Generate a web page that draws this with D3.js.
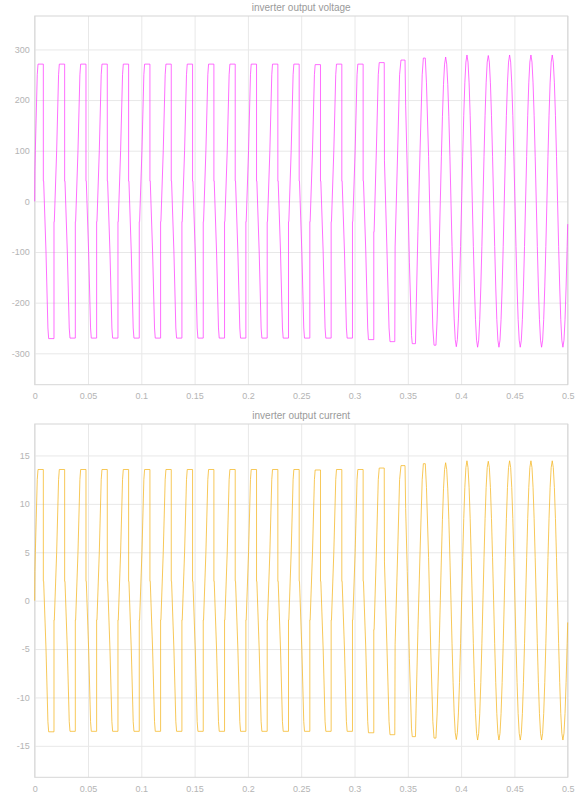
<!DOCTYPE html>
<html>
<head>
<meta charset="utf-8">
<script src="https://cdn.jsdelivr.net/npm/d3@7"></script>
<style>
  html, body { margin: 0; padding: 0; background: #fff; }
  svg { display: block; font-family: "Liberation Sans", Arial, sans-serif; }
</style>
</head>
<body>
<svg id="chart" width="578" height="794"></svg>
<script>
// sample times in ms, one row per 20 ms cycle
const timeMs = [
  [0, 0.2, 0.6, 2.4, 3.1, 8.1, 8.1, 8.4, 10.6, 12.4, 13.1, 18.1, 18.1, 18.4],
  [20.6, 22.4, 23.1, 28.1, 28.1, 28.4, 30.6, 32.4, 33.1, 38.1, 38.1, 38.4],
  [40.6, 42.4, 43.1, 48.1, 48.1, 48.4, 50.6, 52.4, 53.1, 58.1, 58.1, 58.4],
  [60.6, 62.4, 63.1, 68.1, 68.1, 68.4, 70.6, 72.4, 73.1, 78.1, 78.1, 78.4],
  [80.6, 82.4, 83.1, 88.1, 88.1, 88.4, 90.6, 92.4, 93.1, 98.1, 98.1, 98.4],
  [100.6, 102.4, 103.1, 108.1, 108.1, 108.4, 110.6, 112.4, 113.1, 118.1, 118.1, 118.4],
  [120.6, 122.4, 123.1, 128.1, 128.1, 128.4, 130.6, 132.4, 133.1, 138.1, 138.1, 138.4],
  [140.6, 142.4, 143.1, 148.1, 148.1, 148.4, 150.6, 152.4, 153.1, 158.1, 158.1, 158.4],
  [160.6, 162.4, 163.1, 168.1, 168.1, 168.4, 170.6, 172.4, 173.1, 178.1, 178.1, 178.4],
  [180.6, 182.4, 183.1, 188.1, 188.1, 188.4, 190.6, 192.4, 193.1, 198.1, 198.1, 198.4],
  [200.6, 202.4, 203.1, 208.1, 208.1, 208.4, 210.6, 212.4, 213.1, 218.1, 218.1, 218.4],
  [220.6, 222.4, 223.1, 228.1, 228.1, 228.4, 230.6, 232.4, 233.1, 238.1, 238.1, 238.4],
  [240.6, 242.4, 243.1, 248.1, 248.1, 248.4, 250.6, 252.4, 253.1, 258.1, 258.1, 258.4],
  [260.6, 262.4, 263.1, 268.1, 268.1, 268.4, 270.6, 272.4, 273.1, 278.1, 278.1, 278.4],
  [280.6, 282.4, 283.1, 288.1, 288.1, 288.4, 290.6, 292.4, 293.1, 298.1, 298.1, 298.4],
  [300.6, 302.4, 303.1, 308.1, 308.1, 308.4, 310.6, 312.4, 313.1, 318.1, 318.1, 318.4],
  [320.5, 322.3, 323.2, 327.9, 328.1, 330.5, 332.4, 333.3, 337.8, 338.1],
  [340.5, 342.3, 343.6, 347.4, 348.0, 349.5, 351.5, 353.5, 354.2, 357.2, 358.0, 359.5],
  [361.5, 363.5, 364.6, 366.4, 367.5, 369.5, 371.5, 373.5, 374.6, 376.4, 377.5, 379.5],
  [380.5, 381.5, 382.5, 383.5, 384.5, 385.5, 386.5, 387.5, 388.5, 389.5,
   390.5, 391.5, 392.5, 393.5, 394.5, 395.5, 396.5, 397.5, 398.5, 399.5],
  [400.5, 401.5, 402.5, 403.5, 404.5, 405.5, 406.5, 407.5, 408.5, 409.5,
   410.5, 411.5, 412.5, 413.5, 414.5, 415.5, 416.5, 417.5, 418.5, 419.5],
  [420.5, 421.5, 422.5, 423.5, 424.5, 425.5, 426.5, 427.5, 428.5, 429.5,
   430.5, 431.5, 432.5, 433.5, 434.5, 435.5, 436.5, 437.5, 438.5, 439.5],
  [440.5, 441.5, 442.5, 443.5, 444.5, 445.5, 446.5, 447.5, 448.5, 449.5,
   450.5, 451.5, 452.5, 453.5, 454.5, 455.5, 456.5, 457.5, 458.5, 459.5],
  [460.5, 461.5, 462.5, 463.5, 464.5, 465.5, 466.5, 467.5, 468.5, 469.5,
   470.5, 471.5, 472.5, 473.5, 474.5, 475.5, 476.5, 477.5, 478.5, 479.5],
  [480.5, 481.5, 482.5, 483.5, 484.5, 485.5, 486.5, 487.5, 488.5, 489.5,
   490.5, 491.5, 492.5, 493.5, 494.5, 495.5, 496.5, 497.5, 498.5, 499.5],
  [500]
];

// inverter output voltage (V), same row layout as timeMs
const voltage = [
  [0, 60, 100, 250, 271, 271, 40, 40, -100, -250, -271, -271, -40, -40],
  [100, 250, 271, 271, 40, 40, -100, -250, -270, -270, -40, -40],
  [100, 250, 271, 271, 40, 40, -100, -250, -270, -270, -40, -40],
  [100, 250, 271, 271, 40, 40, -100, -250, -270, -270, -40, -40],
  [100, 250, 271, 271, 40, 40, -100, -250, -270, -270, -40, -40],
  [100, 250, 271, 271, 40, 40, -100, -250, -270, -270, -40, -40],
  [100, 250, 271, 271, 40, 40, -100, -250, -270, -270, -40, -40],
  [100, 250, 271, 271, 40, 40, -100, -250, -270, -270, -40, -40],
  [100, 250, 271, 271, 40, 40, -100, -250, -270, -270, -40, -40],
  [100, 250, 271, 271, 40, 40, -100, -250, -270, -270, -40, -40],
  [100, 250, 271, 271, 40, 40, -100, -250, -270, -270, -40, -40],
  [100, 250, 271, 271, 40, 40, -100, -250, -270, -270, -40, -40],
  [100, 250, 271, 271, 40, 40, -100, -250, -270, -270, -40, -40],
  [100, 250, 270, 270, 40, 40, -100, -250, -270, -270, -40, -40],
  [100, 250, 271, 271, 40, 40, -100, -250, -270, -270, -40, -40],
  [100, 250, 271, 271, 40, 40, -100, -250, -273, -273, -60, -60],
  [100, 250, 274, 274, 80, -100, -250, -277, -277, -90],
  [100, 250, 279, 279, 190, 60, -120, -265, -281, -281, -200, -60],
  [100, 250, 283, 283, 234, 89, -100, -250, -284, -284, -234, -89],
  [0, 88, 168, 231, 271, 285, 271, 231, 168, 88,
   0, -89, -169, -232, -273, -287, -273, -232, -169, -89],
  [0, 89, 170, 234, 275, 289, 275, 234, 170, 89,
   0, -89, -169, -233, -274, -288, -274, -233, -169, -89],
  [0, 89, 170, 234, 275, 288, 275, 234, 170, 89,
   0, -89, -169, -233, -274, -288, -274, -233, -169, -89],
  [0, 89, 170, 234, 275, 289, 275, 234, 170, 89,
   0, -89, -169, -233, -274, -288, -274, -233, -169, -89],
  [0, 89, 170, 234, 275, 289, 275, 234, 170, 89,
   0, -89, -169, -233, -274, -288, -274, -233, -169, -89],
  [0, 89, 170, 234, 275, 289, 275, 234, 170, 89,
   0, -89, -169, -233, -274, -288, -274, -233, -169, -89],
  [-45]
];

// inverter output current (A), same row layout as timeMs
const current = [
  [0, 3, 5, 12.5, 13.55, 13.55, 2, 2, -5, -12.5, -13.55, -13.55, -2, -2],
  [5, 12.5, 13.55, 13.55, 2, 2, -5, -12.5, -13.5, -13.5, -2, -2],
  [5, 12.5, 13.55, 13.55, 2, 2, -5, -12.5, -13.5, -13.5, -2, -2],
  [5, 12.5, 13.55, 13.55, 2, 2, -5, -12.5, -13.5, -13.5, -2, -2],
  [5, 12.5, 13.55, 13.55, 2, 2, -5, -12.5, -13.5, -13.5, -2, -2],
  [5, 12.5, 13.55, 13.55, 2, 2, -5, -12.5, -13.5, -13.5, -2, -2],
  [5, 12.5, 13.55, 13.55, 2, 2, -5, -12.5, -13.5, -13.5, -2, -2],
  [5, 12.5, 13.55, 13.55, 2, 2, -5, -12.5, -13.5, -13.5, -2, -2],
  [5, 12.5, 13.55, 13.55, 2, 2, -5, -12.5, -13.5, -13.5, -2, -2],
  [5, 12.5, 13.55, 13.55, 2, 2, -5, -12.5, -13.5, -13.5, -2, -2],
  [5, 12.5, 13.55, 13.55, 2, 2, -5, -12.5, -13.5, -13.5, -2, -2],
  [5, 12.5, 13.55, 13.55, 2, 2, -5, -12.5, -13.5, -13.5, -2, -2],
  [5, 12.5, 13.55, 13.55, 2, 2, -5, -12.5, -13.5, -13.5, -2, -2],
  [5, 12.5, 13.5, 13.5, 2, 2, -5, -12.5, -13.5, -13.5, -2, -2],
  [5, 12.5, 13.55, 13.55, 2, 2, -5, -12.5, -13.5, -13.5, -2, -2],
  [5, 12.5, 13.55, 13.55, 2, 2, -5, -12.5, -13.65, -13.65, -3, -3],
  [5, 12.5, 13.7, 13.7, 4, -5, -12.5, -13.85, -13.85, -4.5],
  [5, 12.5, 13.95, 13.95, 9.5, 3, -6, -13.25, -14.05, -14.05, -10, -3],
  [5, 12.5, 14.15, 14.15, 11.7, 4.45, -5, -12.5, -14.2, -14.2, -11.7, -4.45],
  [0, 4.4, 8.4, 11.55, 13.55, 14.25, 13.55, 11.55, 8.4, 4.4,
   0, -4.45, -8.45, -11.6, -13.65, -14.35, -13.65, -11.6, -8.45, -4.45],
  [0, 4.45, 8.5, 11.7, 13.75, 14.45, 13.75, 11.7, 8.5, 4.45,
   0, -4.45, -8.45, -11.65, -13.7, -14.4, -13.7, -11.65, -8.45, -4.45],
  [0, 4.45, 8.5, 11.7, 13.75, 14.4, 13.75, 11.7, 8.5, 4.45,
   0, -4.45, -8.45, -11.65, -13.7, -14.4, -13.7, -11.65, -8.45, -4.45],
  [0, 4.45, 8.5, 11.7, 13.75, 14.45, 13.75, 11.7, 8.5, 4.45,
   0, -4.45, -8.45, -11.65, -13.7, -14.4, -13.7, -11.65, -8.45, -4.45],
  [0, 4.45, 8.5, 11.7, 13.75, 14.45, 13.75, 11.7, 8.5, 4.45,
   0, -4.45, -8.45, -11.65, -13.7, -14.4, -13.7, -11.65, -8.45, -4.45],
  [0, 4.45, 8.5, 11.7, 13.75, 14.45, 13.75, 11.7, 8.5, 4.45,
   0, -4.45, -8.45, -11.65, -13.7, -14.4, -13.7, -11.65, -8.45, -4.45],
  [-2.25]
];

const xTicks = [0, 0.05, 0.1, 0.15, 0.2, 0.25, 0.3, 0.35, 0.4, 0.45, 0.5];
const voltageTicks = [-300, -200, -100, 0, 100, 200, 300];
const currentTicks = [-15, -10, -5, 0, 5, 10, 15];

// ── Layout ────────────────────────────────────────────────────────────────────

const LEFT = 34.7, RIGHT = 567.7;

const panels = [
  { title: 'inverter output voltage', values: voltage, ticks: voltageTicks,
    domain: [-362, 366], top: 16, bottom: 384.7, color: '#ff3dff' },
  { title: 'inverter output current', values: current, ticks: currentTicks,
    domain: [-18.25, 18.25], top: 424, bottom: 777.3, color: '#f4b522' },
];

const svg = d3.select('#chart');

const x = d3.scaleLinear().domain([0, 0.5]).range([LEFT, RIGHT]);
const fmtX = d => d === 0 ? '0' : String(+d.toFixed(2));
const fmtY = d => String(d);   // plain hyphen, not the unicode minus

function toPoints(values) {
  const t = timeMs.flat();
  const v = values.flat();
  if (t.length !== v.length) console.error('length mismatch', t.length, v.length);
  return t.map((ms, i) => [ms / 1000, v[i]]);
}

// ── Panels ────────────────────────────────────────────────────────────────────

function drawPanel(p, idx) {
  const y = d3.scaleLinear().domain(p.domain).range([p.bottom, p.top]);
  const g = svg.append('g').attr('class', 'panel-' + idx);

  // horizontal grid + y labels
  g.append('g')
    .attr('transform', `translate(${LEFT},0)`)
    .call(d3.axisLeft(y).tickValues(p.ticks).tickFormat(fmtY)
      .tickSize(-(RIGHT - LEFT)).tickPadding(5))
    .call(a => a.select('.domain').remove())
    .call(a => a.selectAll('line').attr('stroke', '#e8e8e8'))
    .call(a => a.selectAll('text').attr('fill', '#b4b4b4').attr('font-size', '9px'));

  // vertical grid + x labels
  g.append('g')
    .attr('transform', `translate(0,${p.bottom})`)
    .call(d3.axisBottom(x).tickValues(xTicks).tickFormat(fmtX)
      .tickSize(-(p.bottom - p.top)).tickPadding(8))
    .call(a => a.select('.domain').remove())
    .call(a => a.selectAll('line').attr('stroke', '#e8e8e8'))
    .call(a => a.selectAll('text').attr('fill', '#b4b4b4').attr('font-size', '9px'));

  // frame
  g.append('rect')
    .attr('x', LEFT).attr('y', p.top)
    .attr('width', RIGHT - LEFT).attr('height', p.bottom - p.top)
    .attr('fill', 'none').attr('stroke', '#d6d6d6').attr('stroke-width', 1);

  // trace
  const line = d3.line().x(d => x(d[0])).y(d => y(d[1]));
  g.append('path')
    .datum(toPoints(p.values))
    .attr('d', line)
    .attr('fill', 'none')
    .attr('stroke', p.color)
    .attr('stroke-width', 1)
    .attr('stroke-opacity', 0.75)
    .attr('stroke-linejoin', 'round');

  g.append('text')
    .attr('x', (LEFT + RIGHT) / 2)
    .attr('y', p.top - 5)
    .attr('text-anchor', 'middle')
    .attr('font-size', '10px')
    .attr('fill', '#9a9a9a')
    .text(p.title);
}

panels.forEach(drawPanel);
</script>
</body>
</html>
